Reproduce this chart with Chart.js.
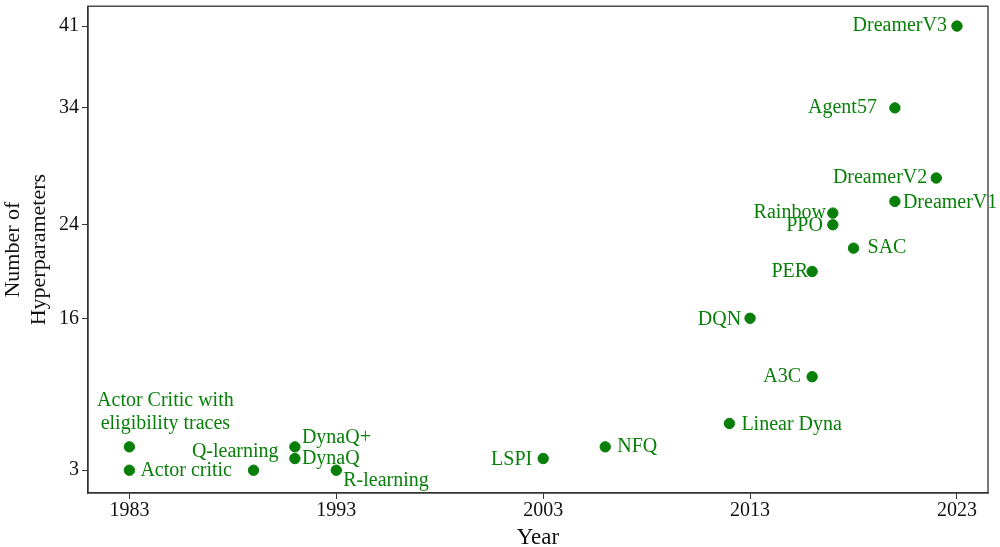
<!DOCTYPE html>
<html>
<head>
<meta charset="utf-8">
<script src="https://cdn.jsdelivr.net/npm/chart.js@4"></script>
<style>
  html, body { margin: 0; padding: 0; background: #fff; }
  #wrap { width: 1000px; height: 547px; }
</style>
</head>
<body>
<div id="wrap"><canvas id="grafico"></canvas></div>
<script>
// Datos
const algoritmos = ["Actor Critic with\neligibility traces", "Actor critic", "Q-learning", "DynaQ+", "DynaQ",
    "R-learning", "LSPI", "NFQ", "Linear Dyna", "DQN", "A3C", "PER", "SAC", "PPO", "Rainbow",
    "DreamerV1", "DreamerV2", "Agent57", "DreamerV3"];
const anios = [1983, 1983, 1989, 1991, 1991, 1993, 2003, 2006, 2012, 2013, 2016, 2016, 2018, 2017, 2017, 2020, 2022, 2020, 2023];
const hiperparametros = [5, 3, 3, 5, 4, 3, 4, 5, 7, 16, 11, 20, 22, 24, 25, 26, 28, 34, 41];
const ticksX = [1983, 1993, 2003, 2013, 2023];
const ticksY = [3, 16, 24, 34, 41];

// Colocación de etiquetas: [alineación, dx, dy] en píxeles
const posEtiquetas = [
    ["center", 36, -46], ["left", 11, 1], ["right", 25, -18], ["left", 7, -9], ["left", 7, 0],
    ["left", 7, 11], ["right", -11, 1], ["left", 12, 0], ["left", 12, 1], ["right", -9, 1],
    ["right", -11, 0], ["right", -4, 0], ["left", 14, 0], ["right", -10, 1], ["right", -7, 0],
    ["left", 8, 1], ["right", -9, 0], ["right", -18, 0], ["right", -10, 0]
];

const verde = "#087f08";
const fuente = "'Liberation Serif', 'DejaVu Serif', serif";

const etiquetas = {
    id: "etiquetas",
    afterDatasetsDraw(chart) {
        const ctx = chart.ctx;
        const meta = chart.getDatasetMeta(0);
        ctx.save();
        ctx.fillStyle = verde;
        ctx.font = "20px " + fuente;
        ctx.textBaseline = "middle";
        meta.data.forEach((p, i) => {
            const [al, dx, dy] = posEtiquetas[i];
            ctx.textAlign = al;
            const lineas = algoritmos[i].split("\n");
            lineas.forEach((t, k) => ctx.fillText(t, p.x + dx, p.y + dy + k * 23));
        });
        ctx.restore();
    }
};

const marco = {
    id: "marco",
    afterDraw(chart) {
        const a = chart.chartArea;
        const ctx = chart.ctx;
        ctx.save();
        ctx.strokeStyle = "#333";
        ctx.lineWidth = 1.3;
        ctx.strokeRect(a.left, a.top, a.right - a.left, a.bottom - a.top);
        ctx.restore();
    }
};

new Chart(document.getElementById("grafico"), {
    type: "scatter",
    data: {
        datasets: [{
            data: anios.map((x, i) => ({ x: x, y: hiperparametros[i] })),
            backgroundColor: verde,
            borderColor: verde,
            pointRadius: 5.2,
            pointHoverRadius: 5.2
        }]
    },
    options: {
        responsive: true,
        maintainAspectRatio: false,
        animation: false,
        layout: { padding: { top: 3, right: 12, left: 0, bottom: 0 } },
        plugins: { legend: { display: false }, tooltip: { enabled: false } },
        scales: {
            x: {
                type: "linear",
                min: 1981,
                max: 2024.5,
                afterBuildTicks: s => { s.ticks = ticksX.map(v => ({ value: v })); },
                afterFit: s => { s.height = 54; s.paddingLeft = 0; s.paddingRight = 0; },
                grid: { drawOnChartArea: false, drawTicks: true, tickLength: 6, color: "#333" },
                border: { color: "#333", width: 1.3 },
                ticks: { color: "#111", font: { family: fuente, size: 20 }, padding: 0, callback: v => String(v) },
                title: { display: true, text: "Year", color: "#111", font: { family: fuente, size: 23 }, padding: { top: 0, bottom: -5 } }
            },
            y: {
                type: "linear",
                min: 1.05,
                max: 42.7,
                afterBuildTicks: s => { s.ticks = ticksY.map(v => ({ value: v })); },
                afterFit: s => { s.width = 88; s.paddingTop = 0; s.paddingBottom = 0; },
                grid: { drawOnChartArea: false, drawTicks: true, tickLength: 6, color: "#333" },
                border: { color: "#333", width: 1.3 },
                ticks: { color: "#111", font: { family: fuente, size: 20 }, padding: 3 },
                title: { display: true, text: ["Number of", "Hyperparameters"], color: "#111", font: { family: fuente, size: 22 }, padding: { top: 0, bottom: 0 } }
            }
        }
    },
    plugins: [etiquetas, marco]
});
</script>
</body>
</html>
